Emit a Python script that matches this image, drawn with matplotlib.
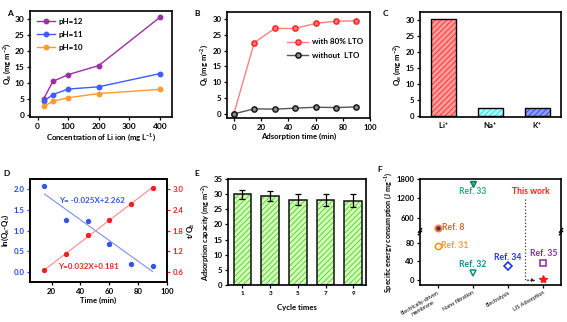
import numpy as np
import matplotlib
matplotlib.use("Agg")
import matplotlib.pyplot as plt

plt.rcParams['font.family'] = ['Lato', 'DejaVu Sans']
plt.rcParams['font.weight'] = 'bold'
plt.rcParams['axes.labelweight'] = 'bold'
plt.rcParams['mathtext.default'] = 'regular'
plt.rcParams['font.size'] = 5.6
plt.rcParams['axes.linewidth'] = 1.2
plt.rcParams['xtick.major.size'] = 2.5
plt.rcParams['ytick.major.size'] = 2.5
plt.rcParams['xtick.major.width'] = 0.9
plt.rcParams['ytick.major.width'] = 0.9
plt.rcParams['xtick.major.pad'] = 1.5
plt.rcParams['ytick.major.pad'] = 1.5
plt.rcParams['hatch.linewidth'] = 0.6
plt.rcParams['axes.labelpad'] = 1.5

# ---------------- data ----------------
# A
conc = [20, 50, 100, 200, 400]
ph12 = [5.2, 10.6, 12.7, 15.5, 30.5]
ph11 = [4.4, 6.5, 8.2, 8.9, 13.0]
ph10 = [2.8, 4.4, 5.5, 6.8, 8.1]
# B
time_b = [0, 15, 30, 45, 60, 75, 90]
with_lto = [0, 22.5, 27.0, 27.0, 28.6, 29.3, 29.4]
without_lto = [0, 1.6, 1.5, 1.8, 2.1, 2.0, 2.2]
# C
ions = ['Li$^{+}$', 'Na$^{+}$', 'K$^{+}$']
ion_q = [30.5, 2.5, 2.3]
# D
time_d = [15, 30, 45, 60, 75, 90]
ln_q = [2.08, 1.25, 1.23, 0.68, 0.20, 0.15]
t_over_q = [0.66, 1.12, 1.67, 2.10, 2.56, 3.05]
fit_x = [15, 90]
ln_fit = [1.887, 0.012]
tq_fit = [0.661, 3.061]
# E
cycles = ['1', '3', '5', '7', '9']
cap = [29.9, 29.4, 28.2, 28.0, 27.8]
cap_err = [1.5, 1.8, 1.9, 2.0, 2.1]
# F
methods = ['Electrically-driven\nmembrane', 'Nano filtration', 'Electrolysis', 'LIS Adsorption']
refs = ['Ref. 8', 'Ref. 31', 'Ref. 33', 'Ref. 32', 'Ref. 34', 'Ref. 35', 'This work']
ref_x = [0, 0, 1, 1, 2, 3, 3]
ref_y = [290, 73, 1634, 15, 30, 37, 3]

W, H = 567, 322
fig = plt.figure(figsize=(W / 100, H / 100), dpi=100)

def box(l, r, t, b):
    return [l / W, 1 - b / H, (r - l) / W, (b - t) / H]

def plabel(x, y, s):
    fig.text(x / W, 1 - y / H, s, fontsize=6, fontweight='bold', ha='center', va='center')

# ---------------- A ----------------
axA = fig.add_axes(box(30, 172, 11, 117))
axA.plot(conc, ph12, '-o', color='#9b2fa8', ms=3.2, lw=1, label='pH=12')
axA.plot(conc, ph11, '-o', color='#3f5cf5', ms=3.2, lw=1, label='pH=11')
axA.plot(conc, ph10, '-o', color='#ff9a2e', ms=3.2, lw=1, label='pH=10')
axA.set_xlim(-25, 440)
axA.set_ylim(-0.5, 32.5)
axA.set_xticks([0, 100, 200, 300, 400])
axA.set_yticks([0, 5, 10, 15, 20, 25, 30])
axA.tick_params(labelsize=6)
axA.set_xlabel('Concentration of Li ion (mg L$^{-1}$)')
axA.set_ylabel('Q$_e$ (mg m$^{-2}$)')
axA.legend(loc='upper left', frameon=False, fontsize=5.8, handlelength=2.2,
           borderaxespad=0.5, labelspacing=0.7, handletextpad=0.4)
plabel(10, 13, 'A')

# ---------------- B ----------------
axB = fig.add_axes(box(227, 370, 12, 118))
axB.plot(time_b, with_lto, '-o', color='#ff8080', mfc='#ff7070', mec='#ff2020', ms=3.8, lw=1,
         label='with 80% LTO')
axB.plot(time_b, without_lto, '-o', color='#555555', mfc='#888888', mec='#111111', ms=3.8, lw=1,
         label='without  LTO')
axB.set_xlim(-5, 100)
axB.set_ylim(-1.3, 32.2)
axB.set_xticks([0, 20, 40, 60, 80, 100])
axB.set_yticks([0, 5, 10, 15, 20, 25, 30])
axB.set_xlabel('Adsorption time (min)')
axB.set_ylabel('Q$_t$ (mg m$^{-2}$)')
axB.legend(loc='upper right', bbox_to_anchor=(1.0, 0.82), frameon=False, fontsize=5.8,
           handlelength=2.6, labelspacing=0.8, handletextpad=0.4)
plabel(197, 13, 'B')

# ---------------- C ----------------
axC = fig.add_axes(box(420, 561, 12, 117))
xc = np.arange(len(ions))
faces = ['#ff9a9a', '#a8ffff', '#8c9cff']
hatchc = ['#ff2a2a', '#22d8d8', '#2a3ff0']
for i in range(len(ions)):
    axC.bar(xc[i], ion_q[i], width=0.55, color=faces[i], edgecolor=hatchc[i], hatch='//////', lw=0)
axC.bar(xc, ion_q, width=0.55, fill=False, edgecolor='black', lw=1)
axC.set_xlim(-0.5, 2.5)
axC.set_ylim(-0.4, 32.6)
axC.set_xticks(xc)
axC.set_xticklabels(ions)
axC.tick_params(axis='x', length=0, pad=3)
axC.set_yticks([0, 5, 10, 15, 20, 25, 30])
axC.set_ylabel('Q$_e$ (mg m$^{-2}$)')
plabel(385, 13, 'C')

# ---------------- D ----------------
axD = fig.add_axes(box(30, 167, 179, 282))
axD.scatter(time_d, ln_q, s=8, color='#3355ee', zorder=3)
axD.plot(fit_x, ln_fit, '-', color='#7f8ff5', lw=0.8)
axD.set_xlim(5, 100)
axD.set_ylim(-0.24, 2.25)
axD.set_xticks([20, 40, 60, 80, 100])
axD.set_yticks([0.0, 0.5, 1.0, 1.5, 2.0])
axD.set_yticklabels(['0.0', '0.5', '1.0', '1.5', '2.0'])
axD.tick_params(axis='y', colors='#2244ee', labelcolor='#2244ee')
axD.set_ylabel('ln(Q$_e$-Q$_t$)', color='black')
axD.set_xlabel('Time (min)')
axD.text(25, 1.74, 'Y= -0.025X+2.262', color='#2f55f0', fontsize=5.8, va='center')
axD.text(24.3, 0.14, 'Y=0.032X+0.181', color='#ee2222', fontsize=5.8, va='center')
axD2 = axD.twinx()
axD2.scatter(time_d, t_over_q, s=8, color='#ee2222', zorder=3)
axD2.plot(fit_x, tq_fit, '-', color='#ff8a8a', lw=0.8)
axD2.set_ylim(0.31, 3.3)
axD2.set_yticks([0.6, 1.2, 1.8, 2.4, 3.0])
axD2.tick_params(axis='y', colors='#ee2222', labelcolor='#ee2222')
axD2.set_ylabel('t/Q$_t$', color='black')
plabel(7, 173, 'D')

# ---------------- E ----------------
axE = fig.add_axes(box(228, 366, 179, 285))
xe = np.arange(len(cycles))
axE.bar(xe, cap, width=0.64, color='#d2ffb8', edgecolor='#4fcc2a', hatch='//////', lw=0)
axE.bar(xe, cap, width=0.64, fill=False, edgecolor='#111111', lw=1.1)
axE.errorbar(xe, cap, yerr=cap_err, fmt='none', ecolor='black', elinewidth=0.9, capsize=2, capthick=0.9)
axE.set_xlim(-0.52, 4.46)
axE.set_ylim(0, 35)
axE.set_xticks(xe)
axE.set_xticklabels(cycles, fontsize=4.5)
axE.set_yticks([0, 5, 10, 15, 20, 25, 30, 35])
axE.set_xlabel('Cycle times', labelpad=6)
axE.set_ylabel('Adsorption capacity (mg m$^{-2}$)', fontsize=5.3)
plabel(197, 173, 'E')

# ---------------- F ----------------
axF = fig.add_axes(box(420, 561, 179, 285))
LO, BRK_LO, BRK_HI, HI = -10.0, 103.0, 162.0, 1800.0
hl, hgap, hh = 53.3, 0.05, 52.65

def fwd(v):
    v = np.asarray(v, dtype=float)
    return np.where(v <= BRK_LO, (v - LO) * hl / (BRK_LO - LO),
           np.where(v <= BRK_HI, hl + (v - BRK_LO) * hgap / (BRK_HI - BRK_LO),
                    hl + hgap + (v - BRK_HI) * hh / (HI - BRK_HI)))

def inv(u):
    u = np.asarray(u, dtype=float)
    return np.where(u <= hl, LO + u * (BRK_LO - LO) / hl,
           np.where(u <= hl + hgap, BRK_LO + (u - hl) * (BRK_HI - BRK_LO) / hgap,
                    BRK_HI + (u - hl - hgap) * (HI - BRK_HI) / hh))

axF.set_yscale('function', functions=(fwd, inv))
axF.set_ylim(LO, HI)
axF.set_xlim(-0.5, 3.5)
axF.set_yticks([0, 40, 80, 600, 1200, 1800])
axF.set_yticklabels(['0', '40', '80', '600', '1200', '1800'])
axF.minorticks_off()
axF.set_xticks(range(len(methods)))
axF.set_xticklabels(methods, rotation=30, ha='right', rotation_mode='anchor', fontsize=4.0,
                    fontweight='normal', multialignment='center')
axF.tick_params(axis='x', pad=1)
axF.set_ylabel('Specific energy consumption (J mg$^{-1}$)', fontsize=5.2)

# markers
axF.plot(ref_x[0], ref_y[0], 'o', ms=4.5, mfc='#6a1b8a', mec='#ff8c1a', mew=1.3)
axF.plot(ref_x[1], ref_y[1], 'o', ms=4.5, mfc='none', mec='#ff8c1a', mew=1.1)
axF.plot(ref_x[2], ref_y[2], 'v', ms=5, mfc='#2ab58a', mec='#137a6a', mew=1.0)
axF.plot(ref_x[3], ref_y[3], 'v', ms=5, mfc='none', mec='#138a8a', mew=1.1)
axF.plot(ref_x[4], ref_y[4], 'D', ms=4, mfc='none', mec='#2233ee', mew=1.2)
axF.plot(ref_x[5], ref_y[5], 's', ms=4, mfc='none', mec='#8a2aa0', mew=1.1)
axF.plot(ref_x[6], ref_y[6], '*', ms=6, color='#ff1a1a')

fs = 6.2
axF.text(0.13, ref_y[0], refs[0], color='#d2691e', fontsize=fs, va='center', ha='left')
axF.text(0.1, ref_y[1], refs[1], color='#ff9a2e', fontsize=fs, va='center', ha='left')
axF.text(1, 1410, refs[2], color='#2aa58a', fontsize=fs, va='center', ha='center')
axF.text(1, 34, refs[3], color='#138a8a', fontsize=fs, va='center', ha='center')
axF.text(2, 49, refs[4], color='#2233ee', fontsize=fs, va='center', ha='center')
axF.text(3, 56, refs[5], color='#8a2aa0', fontsize=fs, va='center', ha='center')
axF.text(2.65, 1410, refs[6], color='#ff1a1a', fontsize=fs, va='center', ha='center')
axF.plot([2.47, 2.47], [1180, 0], ':', color='#333333', lw=0.9)
axF.annotate('', xy=(2.86, 0), xytext=(2.47, 0),
             arrowprops=dict(arrowstyle='-|>', linestyle=':', color='#333333', lw=0.9,
                             mutation_scale=5))
# break marks
yb = (hl + hgap / 2) / (hl + hgap + hh)
for xs in (0.0, 1.0):
    for dy in (-0.012, 0.012):
        axF.plot([xs - 0.012, xs + 0.012], [yb + dy - 0.018, yb + dy + 0.018],
                 transform=axF.transAxes, color='black', lw=0.9, clip_on=False)
plabel(380, 170, 'F')

fig.savefig('out.png', dpi=100)
